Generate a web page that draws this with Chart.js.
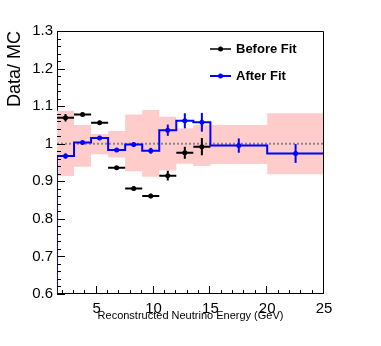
<!DOCTYPE html>
<html>
<head>
<meta charset="utf-8">
<script src="https://cdn.jsdelivr.net/npm/chart.js@4.4.0/dist/chart.umd.min.js"></script>
<style>
html, body { margin: 0; padding: 0; background: #fff; }
</style>
</head>
<body>
<canvas id="ratioChart" width="381" height="346"></canvas>
<script>
// Data / MC ratio vs reconstructed neutrino energy (GeV)
const binEdges = [1.5, 3, 4.5, 6, 7.5, 9, 10.5, 12, 13.5, 15, 20, 25];
const beforeFit = [1.069, 1.078, 1.056, 0.936, 0.881, 0.861, 0.915, 0.976, 0.992, null, null];
const beforeErr = [0.010, 0.005, 0.005, 0.005, 0.005, 0.006, 0.013, 0.016, 0.023, null, null];
const afterFit = [0.967, 1.003, 1.015, 0.983, 0.998, 0.981, 1.036, 1.061, 1.057, 0.995, 0.974];
const afterErr = [0.007, 0.005, 0.005, 0.005, 0.006, 0.008, 0.015, 0.020, 0.025, 0.019, 0.025];
const bandUp = [1.088, 1.050, 1.026, 1.034, 1.078, 1.090, 1.072, 1.041, 1.050, 1.050, 1.081];
const bandDown = [0.914, 0.939, 0.972, 0.963, 0.927, 0.912, 0.929, 0.947, 0.941, 0.946, 0.919];
const xTicks = [5, 10, 15, 20, 25];
const yTicks = [0.6, 0.7, 0.8, 0.9, 1, 1.1, 1.2, 1.3];

const FONT = '"Liberation Sans", Arial, Helvetica, sans-serif';

// step outline: one point per left bin edge, last value repeated at the right edge
const steps = vals => binEdges.map((x, i) => ({x: x, y: vals[Math.min(i, vals.length - 1)]}));
const centres = binEdges.slice(0, -1).map((e, i) => (e + binEdges[i + 1]) / 2);

// frame, inward ticks, error bars and legend (ROOT look)
const rootStyle = {
    id: 'rootStyle',
    beforeDatasetsDraw(chart) {
        const {ctx, chartArea: a} = chart;
        ctx.save();
        ctx.strokeStyle = '#000';
        ctx.lineWidth = 1;
        ctx.beginPath();
        ctx.moveTo(a.left + 0.5, a.top);
        ctx.lineTo(a.left + 0.5, a.bottom);
        ctx.stroke();
        ctx.restore();
    },
    afterDatasetsDraw(chart) {
        const {ctx, chartArea: a, scales: {x, y}} = chart;
        ctx.save();

        // error bars
        ctx.lineWidth = 2;
        ctx.strokeStyle = '#000';
        beforeFit.forEach((v, i) => {
            if (v === null) return;
            const py = y.getPixelForValue(v);
            ctx.beginPath();
            ctx.moveTo(x.getPixelForValue(binEdges[i]), py);
            ctx.lineTo(x.getPixelForValue(binEdges[i + 1]), py);
            ctx.moveTo(x.getPixelForValue(centres[i]), y.getPixelForValue(v - beforeErr[i]));
            ctx.lineTo(x.getPixelForValue(centres[i]), y.getPixelForValue(v + beforeErr[i]));
            ctx.stroke();
        });
        ctx.strokeStyle = '#0000ff';
        afterFit.forEach((v, i) => {
            ctx.beginPath();
            ctx.moveTo(x.getPixelForValue(centres[i]), y.getPixelForValue(v - afterErr[i]));
            ctx.lineTo(x.getPixelForValue(centres[i]), y.getPixelForValue(v + afterErr[i]));
            ctx.stroke();
        });

        // frame: top, right, bottom
        ctx.lineWidth = 1;
        ctx.strokeStyle = '#000';
        ctx.beginPath();
        ctx.moveTo(a.left, a.top + 0.5);
        ctx.lineTo(a.right - 0.5, a.top + 0.5);
        ctx.lineTo(a.right - 0.5, a.bottom - 0.5);
        ctx.lineTo(a.left, a.bottom - 0.5);
        ctx.stroke();

        // inward tick marks
        ctx.beginPath();
        for (let v = 60; v <= 130; v += 2) {
            const py = Math.round(y.getPixelForValue(v / 100)) + 0.5;
            const len = v % 10 === 0 ? 8 : 4;
            ctx.moveTo(a.left, py);
            ctx.lineTo(a.left + len, py);
        }
        for (let v = 2; v <= 25; v++) {
            const px = Math.round(x.getPixelForValue(v)) - 0.5;
            const len = v % 5 === 0 ? 8 : 4;
            ctx.moveTo(px, a.bottom);
            ctx.lineTo(px, a.bottom - len);
        }
        ctx.stroke();

        // legend
        const entries = [
            {label: chart.data.datasets[4].label, color: '#000', width: 1.5, y: 49},
            {label: chart.data.datasets[5].label, color: '#0000ff', width: 2, y: 76}
        ];
        entries.forEach(e => {
            ctx.strokeStyle = e.color;
            ctx.fillStyle = e.color;
            ctx.lineWidth = e.width;
            ctx.beginPath();
            ctx.moveTo(210, e.y);
            ctx.lineTo(231, e.y);
            ctx.stroke();
            ctx.beginPath();
            ctx.arc(220.5, e.y, 2.5, 0, Math.PI * 2);
            ctx.fill();
            ctx.fillStyle = '#000';
            ctx.font = 'bold 13px ' + FONT;
            ctx.textBaseline = 'middle';
            ctx.fillText(e.label, 236, e.y);
        });
        ctx.restore();
    }
};

new Chart(document.getElementById('ratioChart'), {
    type: 'line',
    data: {
        datasets: [
            {
                label: 'MC up',
                data: steps(bandUp),
                stepped: 'before',
                borderWidth: 0,
                pointRadius: 0,
                fill: false,
                order: 6
            },
            {
                label: 'MC down',
                data: steps(bandDown),
                stepped: 'before',
                borderWidth: 0,
                pointRadius: 0,
                backgroundColor: '#ffcccc',
                fill: '-1',
                order: 5
            },
            {
                label: 'unity',
                data: [{x: binEdges[0], y: 1}, {x: binEdges[binEdges.length - 1], y: 1}],
                borderColor: '#888888',
                borderWidth: 2,
                borderDash: [2, 2],
                pointRadius: 0,
                order: 4
            },
            {
                label: 'After Fit hist',
                data: [{x: binEdges[0], y: 0.6}].concat(steps(afterFit)),
                stepped: 'before',
                borderColor: '#0000ff',
                borderWidth: 2,
                pointRadius: 0,
                order: 3
            },
            {
                label: 'Before Fit',
                data: centres.map((c, i) => ({x: c, y: beforeFit[i]})),
                showLine: false,
                pointRadius: 2.5,
                pointBackgroundColor: '#000',
                pointBorderWidth: 0,
                order: 2
            },
            {
                label: 'After Fit',
                data: centres.map((c, i) => ({x: c, y: afterFit[i]})),
                showLine: false,
                pointRadius: 2.5,
                pointBackgroundColor: '#0000ff',
                pointBorderWidth: 0,
                order: 1
            }
        ]
    },
    options: {
        responsive: false,
        animation: false,
        layout: {
            padding: {top: 31, right: 57, left: 0, bottom: 0}
        },
        plugins: {
            legend: {display: false},
            tooltip: {enabled: false}
        },
        scales: {
            x: {
                type: 'linear',
                min: 1.5,
                max: 25,
                grid: {display: false, drawTicks: false},
                border: {display: false},
                afterBuildTicks: s => { s.ticks = xTicks.map(v => ({value: v})); },
                afterFit: s => { s.height = 52; },
                ticks: {
                    color: '#000',
                    padding: 6,
                    maxRotation: 0,
                    autoSkip: false,
                    font: {family: FONT, size: 15},
                    callback: v => String(v)
                },
                title: {
                    display: true,
                    text: 'Reconstructed Neutrino Energy (GeV)',
                    align: 'center',
                    color: '#000',
                    font: {family: FONT, size: 11},
                    padding: {top: 0, bottom: 23}
                }
            },
            y: {
                type: 'linear',
                min: 0.6,
                max: 1.3,
                grid: {display: false, drawTicks: false},
                border: {display: false},
                afterBuildTicks: s => { s.ticks = yTicks.map(v => ({value: v})); },
                afterFit: s => { s.width = 57; },
                ticks: {
                    color: '#000',
                    padding: 4,
                    autoSkip: false,
                    font: {family: FONT, size: 15},
                    callback: v => String(Math.round(v * 10) / 10)
                },
                title: {
                    display: true,
                    text: 'Data/ MC',
                    align: 'end',
                    color: '#000',
                    font: {family: FONT, size: 18},
                    padding: {top: 4, bottom: 0}
                }
            }
        }
    },
    plugins: [rootStyle]
});
</script>
</body>
</html>
